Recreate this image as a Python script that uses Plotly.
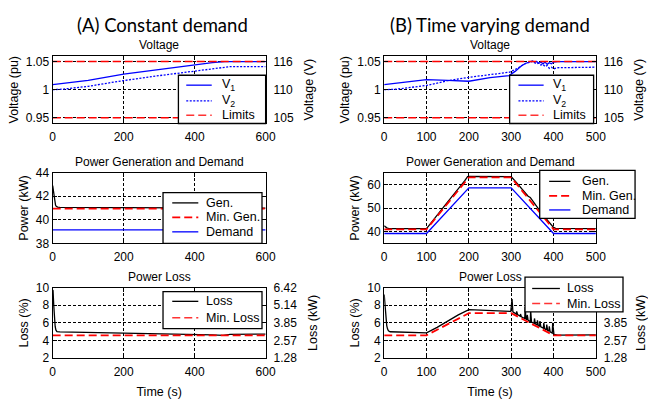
import plotly.graph_objects as go

FONT = "Liberation Sans"
HFONT = "Lato"
BLUE = "#0000ff"
RED = "#ff0000"

# ---------------- data ----------------
# (A) constant demand - voltage
tA_V = [0, 30, 100, 200, 300, 400, 450, 485, 500, 600]
A_V1 = [1.009, 1.011, 1.0165, 1.0275, 1.036, 1.044, 1.048, 1.050, 1.050, 1.050]
A_V2 = [1.000, 1.001, 1.006, 1.0163, 1.025, 1.033, 1.038, 1.0405, 1.041, 1.041]
LIM_HI = 1.05
LIM_LO = 0.95

# (A) power
tA_P = [0, 2, 4, 6, 8, 10, 14, 20, 100, 300, 600]
A_gen = [42.9, 42.4, 41.8, 41.45, 41.25, 41.15, 41.08, 41.05, 41.04, 41.02, 41.0]
tA_const = [0, 600]
A_mingen = [40.95, 40.95]
A_demand = [39.15, 39.15]

# (A) loss
tA_L = [0, 1, 3, 5, 7, 9, 12, 20, 100, 200, 300, 400, 450, 480, 500, 600]
A_loss = [9.7, 9.65, 8.0, 6.5, 5.6, 5.2, 5.02, 4.98, 4.93, 4.87, 4.8, 4.72, 4.65, 4.58, 4.7, 4.73]
A_minloss = [4.6, 4.6]

# (B) time varying demand - voltage
tB_V = [0, 30, 100, 150, 200, 250, 295, 310, 325, 335, 345, 350, 355, 360, 365, 370,
        375, 380, 385, 390, 395, 400, 410, 450, 500]
B_V1 = [1.009, 1.0115, 1.018, 1.0165, 1.015, 1.0215, 1.025, 1.033, 1.043, 1.047, 1.050,
        1.051, 1.049, 1.050, 1.047, 1.049, 1.046, 1.049, 1.045, 1.048, 1.046, 1.049,
        1.050, 1.050, 1.050]
B_V2 = [1.000, 1.001, 1.0075, 1.016, 1.022, 1.027, 1.031, 1.036, 1.043, 1.047, 1.049,
        1.050, 1.048, 1.046, 1.047, 1.044, 1.045, 1.041, 1.043, 1.038, 1.040, 1.037,
        1.039, 1.040, 1.040]

# (B) power
tB_P = [0, 100, 200, 300, 400, 500]
B_mingen = [41.0, 41.0, 63.0, 63.0, 41.0, 41.0]
B_demand = [39.2, 39.2, 58.6, 58.6, 39.2, 39.2]
tB_G = [0, 3, 6, 10, 15, 100, 110, 150, 190, 197, 200, 300, 310, 340, 345, 350, 355,
        360, 370, 380, 390, 395, 400, 405, 500]
B_gen = [42.5, 42.0, 41.6, 41.4, 41.3, 41.25, 43.6, 52.6, 61.5, 63.3, 63.4, 63.3, 61.3,
         55.0, 54.5, 53.2, 51.8, 50.6, 48.3, 46.0, 43.8, 42.7, 41.8, 41.4, 41.3]

# (B) loss
tB_L = [0, 2, 4, 6, 8, 10, 14, 50, 100, 125, 150, 175, 200, 250, 299,
        302, 304, 312, 313, 315,
        321, 322, 324, 332, 333, 335, 337, 338, 340, 345, 346, 348, 354, 355, 357,
        361, 362, 364, 367, 368, 370, 376, 377, 379, 383, 384, 386, 389, 390, 392,
        397, 398, 401, 410, 450, 500]
B_loss = [9.2, 8.0, 6.6, 5.7, 5.3, 5.1, 5.0, 4.95, 4.88, 5.5, 6.2, 6.9, 7.5, 7.4, 7.3,
          8.7, 7.25, 7.0, 7.3, 6.95,
          6.75, 7.0, 6.7, 6.5, 7.8, 6.45, 6.35, 6.9, 6.3, 6.15, 7.4, 6.1, 5.95, 6.5, 5.9,
          5.75, 6.3, 5.7, 5.6, 6.2, 5.55, 5.4, 6.0, 5.35, 5.2, 5.8, 5.15, 5.05, 5.6, 5.0,
          4.85, 6.0, 4.7, 4.62, 4.63, 4.65]
B_minloss = [4.6, 4.6, 7.1, 7.1, 4.6, 4.6]

# tick labels
V_TICKS = [0.95, 1, 1.05]
V_RIGHT = ["105", "110", "116"]
L_TICKS = [2, 4, 6, 8, 10]
L_RIGHT = ["1.28", "2.57", "3.85", "5.14", "6.42"]
# in panel (B) the upper right-hand loss labels sit behind the legend box
LB_TICKS = [2, 4, 6]
LB_RIGHT = ["1.28", "2.57", "3.85"]

# legend labels
LEG_V = ["V<sub>1</sub>", "V<sub>2</sub>", "Limits"]
LEG_P = ["Gen.", "Min. Gen.", "Demand"]
LEG_L = ["Loss", "Min. Loss"]

# ---------------- layout geometry ----------------
W, H = 648, 400
def px_x(a, b):
    return [a / W, b / W]
def px_y(top, bot):
    return [1 - bot / H, 1 - top / H]

XA = px_x(50.7, 268)
XB = px_x(389, 605)
R1 = px_y(50.7, 120.7)
R2 = px_y(171.7, 245)
R3 = px_y(290.7, 364)

fig = go.Figure()

SOLID = dict(dash="solid", width=1.3)
DOTTED = dict(dash="2px,1.5px", width=1.3)
DASHED = dict(dash="8px,4px", width=1.8)
LIM_STYLE = dict(dash="8px,4px", width=1.5)

def line(x, y, xa, ya, color, style, name):
    fig.add_trace(go.Scatter(
        x=x, y=y, xaxis=xa, yaxis=ya, mode="lines", name=name,
        line=dict(color=color, **style), showlegend=False, hoverinfo="skip"))

# A voltage
line(tA_V, A_V1, "x", "y", BLUE, SOLID, LEG_V[0])
line(tA_V, A_V2, "x", "y", BLUE, DOTTED, LEG_V[1])
line([0, 600, None, 0, 600], [LIM_HI, LIM_HI, None, LIM_LO, LIM_LO], "x", "y", RED,
     LIM_STYLE, LEG_V[2])
# A power
line(tA_P, A_gen, "x2", "y2", "black", SOLID, LEG_P[0])
line(tA_const, A_mingen, "x2", "y2", RED, DASHED, LEG_P[1])
line(tA_const, A_demand, "x2", "y2", BLUE, SOLID, LEG_P[2])
# A loss
line(tA_L, A_loss, "x3", "y3", "black", SOLID, LEG_L[0])
line(tA_const, A_minloss, "x3", "y3", RED, DASHED, LEG_L[1])
# B voltage
line(tB_V, B_V1, "x4", "y4", BLUE, SOLID, LEG_V[0])
line(tB_V, B_V2, "x4", "y4", BLUE, DOTTED, LEG_V[1])
line([0, 500, None, 0, 500], [LIM_HI, LIM_HI, None, LIM_LO, LIM_LO], "x4", "y4", RED,
     LIM_STYLE, LEG_V[2])
# B power
line(tB_G, B_gen, "x5", "y5", "black", SOLID, LEG_P[0])
line(tB_P, B_mingen, "x5", "y5", RED, DASHED, LEG_P[1])
line(tB_P, B_demand, "x5", "y5", BLUE, SOLID, LEG_P[2])
# B loss
line(tB_L, B_loss, "x6", "y6", "black", SOLID, LEG_L[0])
line(tB_P, B_minloss, "x6", "y6", RED, DASHED, LEG_L[1])
# dummy traces for the right-hand axes
for xa, ya in [("x", "y7"), ("x3", "y8"), ("x4", "y9"), ("x6", "y10")]:
    fig.add_trace(go.Scatter(x=[None], y=[None], xaxis=xa, yaxis=ya, showlegend=False,
                             hoverinfo="skip"))

tickfont = dict(family=FONT, size=12, color="black")
titlefont = dict(family=FONT, size=12.5, color="black")

def xax(domain, anchor, rng, dtick, title=None):
    d = dict(domain=domain, anchor=anchor, range=rng, dtick=dtick, tick0=0,
             showline=True, linecolor="black", linewidth=1.3, mirror="ticks",
             ticks="inside", ticklen=4, tickcolor="black", showgrid=True,
             gridcolor="black", griddash="3px,2px", gridwidth=0.8, zeroline=False,
             tickfont=tickfont, fixedrange=True, ticklabelstandoff=2)
    if title:
        d["title"] = dict(text=title, font=titlefont, standoff=9)
    return d

def yax(domain, anchor, rng, tickvals, title):
    return dict(domain=domain, anchor=anchor, range=rng, tickvals=tickvals,
                showline=True, linecolor="black", linewidth=1.3, mirror="ticks",
                ticks="inside", ticklen=4, tickcolor="black", showgrid=True,
                gridcolor="black", griddash="3px,2px", gridwidth=0.8, zeroline=False,
                tickfont=tickfont, title=dict(text=title, font=titlefont, standoff=4),
                fixedrange=True)

def yright(over, anchor, rng, tickvals, ticktext, title):
    return dict(overlaying=over, anchor=anchor, side="right", range=rng,
                tickvals=tickvals, ticktext=ticktext, showgrid=False, showline=False,
                ticks="", zeroline=False, tickfont=tickfont, ticklabelstandoff=7,
                title=dict(text=title, font=titlefont, standoff=11), fixedrange=True)

shapes = []
leg_annotations = []

def legend_box(box, sx0, sx1, tx, rows):
    x0, y0, x1, y1 = box
    shapes.append(dict(type="rect", xref="paper", yref="paper", layer="above",
                       x0=x0 / W, x1=x1 / W, y0=1 - y1 / H, y1=1 - y0 / H,
                       fillcolor="white", line=dict(color="black", width=1.3)))
    for y, label, color, style in rows:
        shapes.append(dict(type="line", xref="paper", yref="paper", layer="above",
                           x0=sx0 / W, x1=sx1 / W, y0=1 - y / H, y1=1 - y / H,
                           line=dict(color=color, dash=style["dash"],
                                     width=min(style["width"], 1.6))))
        leg_annotations.append(dict(text=label, x=tx / W, y=1 - y / H, xref="paper",
                                    yref="paper", xanchor="left", yanchor="middle",
                                    showarrow=False,
                                    font=dict(family=FONT, size=12.5, color="black")))

legend_box((179, 70.7, 268, 120.7), 187, 213, 221,
           [(81, LEG_V[0], BLUE, SOLID), (97.3, LEG_V[1], BLUE, DOTTED),
            (112.3, LEG_V[2], "#ff3333", LIM_STYLE)])
legend_box((163.3, 192.3, 264.3, 245), 172.7, 199.3, 205.5,
           [(203, LEG_P[0], "black", SOLID), (218, LEG_P[1], RED, DASHED),
            (233, LEG_P[2], BLUE, SOLID)])
legend_box((163.3, 295, 264.3, 333.3), 172.7, 199.3, 205.5,
           [(305, LEG_L[0], "black", SOLID), (322, LEG_L[1], "#ff3333", DASHED)])
legend_box((517, 70.7, 602.7, 120.7), 526, 551.7, 559.5,
           [(81, LEG_V[0], BLUE, SOLID), (97.3, LEG_V[1], BLUE, DOTTED),
            (112.3, LEG_V[2], "#ff3333", LIM_STYLE)])
legend_box((547.7, 169.3, 645, 219), 557.3, 579, 589,
           [(180.7, LEG_P[0], "black", SOLID), (195.7, LEG_P[1], RED, DASHED),
            (210.3, LEG_P[2], BLUE, SOLID)])
legend_box((532.7, 280, 632.7, 316), 540, 568.3, 574,
           [(291.7, LEG_L[0], "black", SOLID), (307.3, LEG_L[1], "#ff3333", DASHED)])

def sub_title(text, xdom, ydom):
    return dict(text=text, x=(xdom[0] + xdom[1]) / 2, y=ydom[1], xref="paper",
                yref="paper", xanchor="center", yanchor="bottom", showarrow=False,
                font=dict(family=FONT, size=12, color="black"), yshift=2)

annotations = [
    dict(text="(A) Constant demand", x=163 / W, y=1 - 19 / H, xref="paper", yref="paper",
         xanchor="center", yanchor="middle", showarrow=False,
         font=dict(family=HFONT, size=18.5, color="black")),
    dict(text="(B) Time varying demand", x=496.5 / W, y=1 - 19 / H, xref="paper",
         yref="paper", xanchor="center", yanchor="middle", showarrow=False,
         font=dict(family=HFONT, size=18.5, color="black")),
    sub_title("Voltage", XA, R1),
    sub_title("Power Generation and Demand", XA, R2),
    sub_title("Power Loss", XA, R3),
    sub_title("Voltage", XB, R1),
    sub_title("Power Generation and Demand", XB, R2),
    sub_title("Power Loss", XB, R3),
] + leg_annotations

fig.update_layout(
    width=W, height=H, margin=dict(l=0, r=0, t=0, b=0), autosize=False,
    paper_bgcolor="white", plot_bgcolor="white", showlegend=False,
    xaxis=xax(XA, "y", [0, 600], 200),
    yaxis=yax(R1, "x", [0.94, 1.06], V_TICKS, "Voltage (pu)"),
    xaxis2=xax(XA, "y2", [0, 600], 200),
    yaxis2=yax(R2, "x2", [38, 44], [38, 40, 42, 44], "Power (kW)"),
    xaxis3=xax(XA, "y3", [0, 600], 200, "Time (s)"),
    yaxis3=yax(R3, "x3", [2, 10], L_TICKS, "Loss (%)"),
    xaxis4=xax(XB, "y4", [0, 500], 100),
    yaxis4=yax(R1, "x4", [0.94, 1.06], V_TICKS, "Voltage (pu)"),
    xaxis5=xax(XB, "y5", [0, 500], 100),
    yaxis5=yax(R2, "x5", [35, 65], [40, 50, 60], "Power (kW)"),
    xaxis6=xax(XB, "y6", [0, 500], 100, "Time (s)"),
    yaxis6=yax(R3, "x6", [2, 10], L_TICKS, "Loss (%)"),
    yaxis7=yright("y", "x", [0.94, 1.06], V_TICKS, V_RIGHT, "Voltage (V)"),
    yaxis8=yright("y3", "x3", [2, 10], L_TICKS, L_RIGHT, "Loss (kW)"),
    yaxis9=yright("y4", "x4", [0.94, 1.06], V_TICKS, V_RIGHT, "Voltage (V)"),
    yaxis10=yright("y6", "x6", [2, 10], LB_TICKS, LB_RIGHT, "Loss (kW)"),
    shapes=shapes,
    annotations=annotations,
)

fig.write_html("out.html")
